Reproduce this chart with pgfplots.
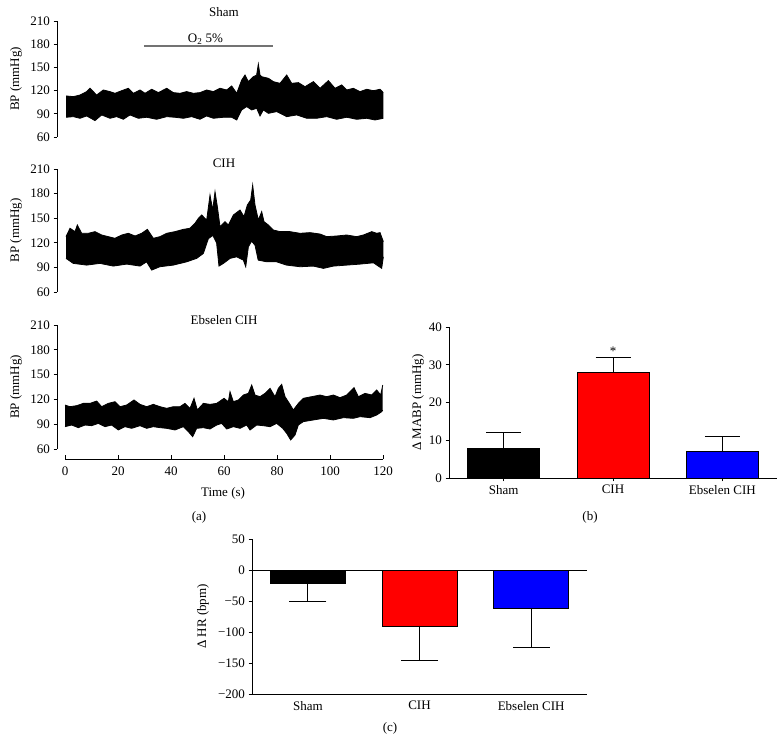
\documentclass[border=0pt]{standalone}
\usepackage{pgfplots}
\pgfplotsset{compat=1.18}
\usepgfplotslibrary{fillbetween}
\usepackage{fontspec}
\setmainfont{Liberation Serif}
\begin{document}
\begin{tikzpicture}[font=\fontsize{13}{15}\selectfont]
\pgfplotsset{
  base/.style={
    scale only axis, anchor=south west, clip=false,
    tick align=outside, major tick length=3.5pt,
    axis line style={line width=0.6pt, black},
    every tick/.style={line width=0.6pt, black},
    tick label style={font=\fontsize{13}{15}\selectfont},
    label style={font=\fontsize{13}{15}\selectfont},
    /pgf/number format/assume math mode=true,
  },
  trace/.style={
    base, width=318pt, xmin=0, xmax=120, ymin=60, ymax=210,
    axis y line*=left, axis y line shift=8pt,
    ytick={60,90,...,210},
    ylabel={BP (mmHg)},
    ylabel style={at={(axis description cs:-0.154,0.5)}, anchor=center},
  },
  env/.style={black, line width=0.8pt},
  barerr/.style={
    error bars/y explicit,
    error bars/error bar style={line width=0.8pt, black},
    error bars/error mark options={rotate=90, mark size=#1, line width=0.8pt, black},
  },
}
% ---------- Trace 1: Sham ----------
\begin{axis}[trace, at={(65pt,605pt)}, height=116pt, axis x line=none, xtick=\empty]
\addplot[name path=u1, env] coordinates {
(0.4,113.1) (3.15,112.2) (5.66,114.3) (8.18,118.7) (9.43,123.0) (11.95,114.3) (14.47,120.8) (16.98,118.7) (18.87,116.5) (21.39,119.9) (23.9,123.0) (25.79,116.5) (28.3,120.8) (30.19,116.5) (32.71,121.7) (35.22,117.4) (38.37,123.0) (40.88,117.4) (43.4,116.5) (45.92,118.7) (48.43,116.5) (50.95,117.4) (53.46,120.8) (55.98,118.7) (58.5,123.0) (61.01,120.8) (62.9,126.0) (64.79,116.5) (66.67,133.7) (67.93,140.2) (69.19,131.6) (71.08,138.0) (72.3,140.0) (72.96,154.4) (73.6,140.0) (74.22,138.0) (76.74,135.9) (78.62,131.6) (81.14,129.4) (83.66,140.2) (85.54,129.4) (88.06,130.3) (90.58,125.1) (93.72,131.6) (96.24,123.0) (99.38,132.9) (101.9,123.0) (104.41,127.3) (106.3,120.8) (108.82,123.0) (111.33,118.7) (113.85,121.7) (116.36,119.9) (118.88,121.7) (120.1,117.4)};
\addplot[name path=l1, env] coordinates {
(0.4,85.5) (3.15,86.3) (5.66,84.2) (8.18,87.2) (11.32,81.2) (13.84,88.5) (16.98,84.2) (19.5,86.3) (22.02,82.9) (24.53,88.5) (27.68,84.2) (30.82,85.5) (34.6,82.9) (38.37,86.3) (41.51,85.5) (44.66,84.2) (47.8,86.3) (50.95,82.9) (53.46,87.2) (55.98,84.2) (59.75,85.5) (62.9,85.5) (64.79,82.0) (66.67,95.0) (68.56,99.3) (70.45,95.0) (72.33,97.1) (73.59,87.2) (74.85,95.0) (76.74,90.6) (79.88,92.8) (83.66,86.3) (87.43,88.5) (91.21,84.2) (94.98,84.2) (98.75,86.3) (102.53,82.9) (106.3,85.5) (110.07,82.9) (113.85,84.2) (116.99,82.0) (120.1,84.2)};
\addplot[black] fill between[of=u1 and l1];
\draw[black!55, line width=1.2pt] (axis cs:29.8,177.7) -- (axis cs:78.5,177.7);
\node[anchor=base] at (axis cs:53,182) {O\textsubscript{2} 5\%};
\node[anchor=base, yshift=4pt] at (axis description cs:0.5,1) {Sham};
\end{axis}
% ---------- Trace 2: CIH ----------
\begin{axis}[trace, at={(65pt,450pt)}, height=123pt, axis x line=none, xtick=\empty]
\addplot[name path=u2, env] coordinates {
(0.38,127.5) (1.89,137.7) (3.77,133.6) (4.65,141.7) (6.29,131.6) (8.81,131.6) (11.32,133.6) (13.84,129.5) (16.35,127.5) (18.87,125.5) (21.39,129.5) (23.90,131.6) (26.42,128.3) (28.93,131.6) (31.07,136.4) (33.34,125.5) (35.85,127.5) (38.37,131.6) (41.51,133.6) (44.66,136.4) (47.17,137.7) (49.06,143.8) (50.32,149.8) (51.58,153.9) (53.46,147.8) (54.72,178.3) (55.73,160.0) (56.61,182.4) (57.49,164.1) (58.50,139.7) (60.38,145.8) (61.64,141.7) (63.53,153.9) (66.04,160.0) (67.55,151.9) (68.81,166.1) (70.07,172.2) (70.82,190.5) (71.70,166.1) (72.96,147.8) (74.22,158.0) (75.10,145.8) (76.74,141.7) (78.62,135.6) (81.14,133.6) (84.91,133.6) (88.69,131.6) (92.47,132.4) (96.24,130.7) (98.75,127.5) (102.53,128.3) (106.30,129.5) (110.07,127.5) (112.59,129.5) (115.74,133.6) (117.62,131.6) (118.88,132.4) (120.14,121.4)};
\addplot[name path=l2, env] coordinates {
(0.38,101.0) (3.1,94.9) (8.2,92.8) (13.2,94.9) (18.2,91.6) (23.3,94.0) (28.3,91.6) (30.8,96.8) (32.7,86.7) (35.8,90.8) (40.9,92.8) (45.9,96.8) (49.7,101.0) (52.2,107.0) (54.1,125.0) (55.8,129.0) (57.2,120.0) (58.1,91.6) (59.8,94.9) (62.3,101.0) (64.8,102.9) (67.3,98.9) (68.2,90.8) (69.2,115.0) (70.4,122.0) (71.7,117.0) (72.9,98.9) (76.1,96.8) (79.8,96.8) (83.6,92.8) (88.7,90.8) (93.7,91.6) (97.5,88.8) (101.3,91.6) (106.3,92.8) (111.3,94.0) (116.4,95.6) (119.5,88.8) (120.14,102.9)};
\addplot[black] fill between[of=u2 and l2];
\node[anchor=base, yshift=1pt] at (axis description cs:0.5,1) {CIH};
\end{axis}
% ---------- Trace 3: Ebselen CIH ----------
\begin{axis}[trace, at={(65pt,293pt)}, height=124pt, axis x line*=bottom, axis x line shift=10pt,
  xtick={0,20,...,120}, xtick align=inside, xticklabel style={yshift=-4pt}]
\addplot[name path=u3, env] coordinates {
(0.0,113.2) (1.89,111.2) (4.40,112.4) (6.92,115.2) (9.43,115.2) (11.95,118.0) (13.84,111.2) (16.35,115.2) (18.87,117.2) (20.76,111.2) (23.27,113.2) (26.04,119.3) (28.30,114.0) (30.82,111.2) (33.34,114.0) (35.85,111.2) (38.37,109.2) (40.88,111.2) (43.40,111.2) (45.29,115.2) (47.17,109.2) (48.68,121.3) (49.94,107.2) (52.21,115.2) (54.72,114.0) (57.24,115.2) (60.01,121.3) (61.64,117.2) (62.27,129.3) (63.53,117.2) (65.42,119.3) (67.30,125.3) (69.19,127.3) (70.45,137.4) (71.70,125.3) (73.59,123.3) (75.48,127.3) (77.37,133.4) (79.25,123.3) (80.51,133.4) (81.77,138.2) (83.03,123.3) (84.66,115.2) (86.17,107.2) (88.06,115.2) (89.95,121.3) (93.09,123.3) (96.24,125.3) (98.75,123.3) (101.27,125.3) (103.78,122.1) (106.30,125.3) (109.07,134.2) (110.70,123.3) (113.22,127.3) (115.74,125.3) (117.62,131.4) (119.13,125.3) (119.89,137.4)};
\addplot[name path=l3, env] coordinates {
(0.0,87.0) (2.52,89.0) (5.03,85.8) (7.55,89.0) (10.06,88.2) (12.58,91.0) (15.10,87.0) (17.61,89.0) (20.13,83.0) (22.64,87.0) (25.16,85.0) (28.30,88.2) (30.82,85.0) (33.34,87.0) (35.85,85.8) (38.37,85.0) (41.51,83.0) (44.66,87.0) (46.55,81.0) (48.18,74.9) (49.69,85.0) (52.21,85.8) (54.72,84.2) (57.24,89.0) (59.13,91.0) (61.01,84.2) (63.53,87.0) (66.04,85.0) (68.56,89.0) (69.82,83.0) (72.33,89.0) (74.85,88.2) (77.37,87.0) (79.88,91.0) (82.15,85.0) (83.66,78.9) (85.16,70.9) (86.80,76.9) (88.06,89.0) (89.95,93.1) (93.72,95.1) (97.50,97.1) (101.27,95.1) (105.04,97.9) (108.82,97.1) (111.33,99.1) (115.11,97.9) (117.62,101.1) (119.51,105.1) (119.89,107.0)};
\addplot[black] fill between[of=u3 and l3];
\node[anchor=base, yshift=0pt] at (axis description cs:0.5,1) {Ebselen CIH};
\end{axis}
\node at (223pt,249pt) {Time (s)};
\node at (199pt,225pt) {(a)};
\node at (590pt,225pt) {(b)};
\node at (390pt,14pt) {(c)};
% ---------- (b) Delta MABP ----------
\begin{axis}[base, at={(449pt,264pt)}, width=328pt, height=151pt,
  xmin=-0.5, xmax=2.5, ymin=0, ymax=40,
  axis x line*=bottom, axis y line*=left,
  xtick={0,1,2}, xticklabels={Sham,CIH,Ebselen CIH},
  ytick={0,10,...,40},
  ylabel={Δ MABP (mmHg)},
  ylabel style={at={(axis description cs:-0.0945,0.5)}, anchor=center},
  error bars/y dir=plus]
\addplot[ybar, bar width=72pt, bar shift=0pt, fill=black, draw=black, barerr=17.5pt] coordinates {(0,8) +- (0,4)};
\addplot[ybar, bar width=72pt, bar shift=0pt, fill=red, draw=black, barerr=17.5pt] coordinates {(1,28) +- (0,4)};
\addplot[ybar, bar width=72pt, bar shift=0pt, fill=blue, draw=black, barerr=17.5pt] coordinates {(2,7.2) +- (0,3.8)};
\node[anchor=south, inner sep=0pt] at (axis cs:1,32.3) {*};
\end{axis}
% ---------- (c) Delta HR ----------
\begin{axis}[base, at={(252pt,48pt)}, width=335pt, height=155pt,
  xmin=-0.5, xmax=2.5, ymin=-200, ymax=50,
  axis x line*=bottom, axis y line*=left,
  xtick={0,1,2}, xticklabels={Sham,CIH,Ebselen CIH},
  x tick style={draw=none},
  ytick={-200,-150,-100,-50,0,50},
  yticklabels={−200,−150,−100,−50,0,50},
  ylabel={Δ HR (bpm)},
  ylabel style={at={(axis description cs:-0.146,0.5)}, anchor=center},
  error bars/y dir=minus]
\addplot[ybar, bar width=75pt, bar shift=0pt, fill=black, draw=black, barerr=18.5pt] coordinates {(0,-22) +- (0,29)};
\addplot[ybar, bar width=75pt, bar shift=0pt, fill=red, draw=black, barerr=18.5pt] coordinates {(1,-90) +- (0,55)};
\addplot[ybar, bar width=75pt, bar shift=0pt, fill=blue, draw=black, barerr=18.5pt] coordinates {(2,-61) +- (0,64)};
\draw[line width=0.6pt, black] (axis cs:-0.5,0) -- (axis cs:2.5,0);
\end{axis}
\path (0pt,0pt) rectangle (784pt,742pt);
\end{tikzpicture}
\end{document}
